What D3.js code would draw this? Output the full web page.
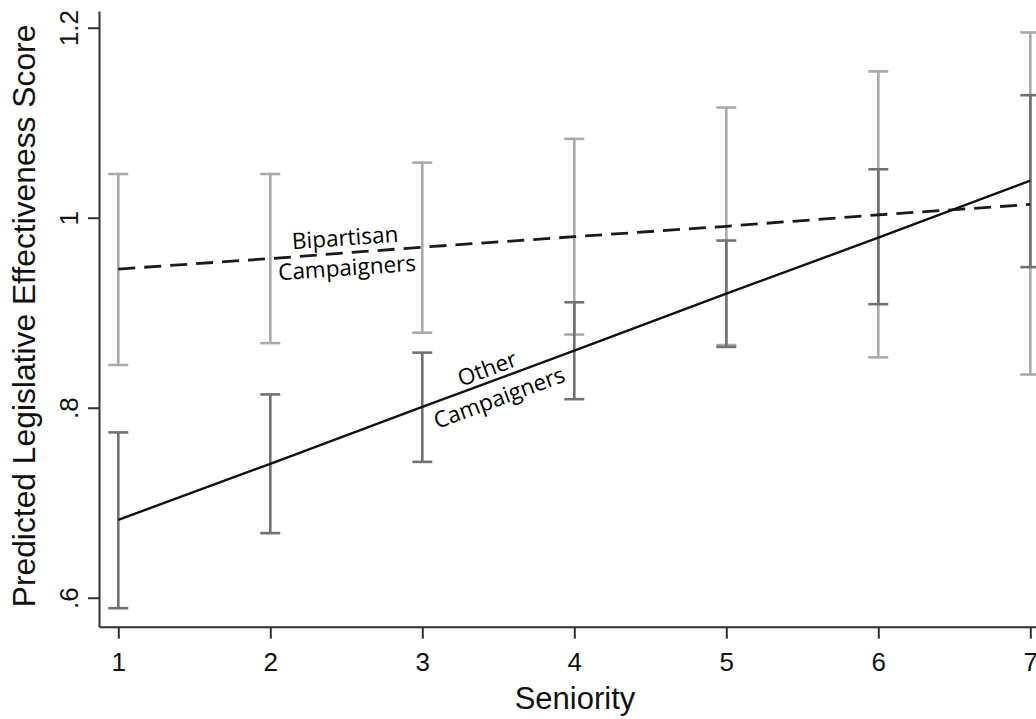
<!DOCTYPE html>
<html>
<head>
<meta charset="utf-8">
<script src="https://cdn.jsdelivr.net/npm/d3@7"></script>
<style>
  html, body { margin: 0; padding: 0; background: #fff; }
  svg { display: block; }
</style>
</head>
<body>
<svg id="chart" width="1036" height="719"></svg>
<script>
// ---- data ----
const seniority = [1, 2, 3, 4, 5, 6, 7];
const bipartisanFit   = [0.946, 0.957, 0.969, 0.980, 0.991, 1.003, 1.014];
const bipartisanLower = [0.845, 0.868, 0.879, 0.877, 0.866, 0.853, 0.835];
const bipartisanUpper = [1.046, 1.046, 1.058, 1.083, 1.116, 1.154, 1.195];
const otherFit   = [0.682, 0.741, 0.801, 0.860, 0.920, 0.979, 1.039];
const otherLower = [0.589, 0.668, 0.743, 0.809, 0.864, 0.909, 0.948];
const otherUpper = [0.774, 0.814, 0.858, 0.911, 0.976, 1.051, 1.129];
const xTicks = [1, 2, 3, 4, 5, 6, 7];
const yTicks = [0.6, 0.8, 1.0, 1.2];
const yTickLabels = [".6", ".8", "1", "1.2"];

const svg = d3.select("#chart");

const x = d3.scaleLinear().domain([0.873, 7.14]).range([99, 99 + (7.14 - 0.873) * 152]);
const y = d3.scaleLinear().domain([0.5695, 1.2176]).range([626.7, 11]);

// axes
const xAxis = d3.axisBottom(x).tickValues(xTicks).tickSize(12).tickSizeOuter(0).tickPadding(14)
  .tickFormat(d3.format("d"));
const gx = svg.append("g").attr("transform", `translate(0,${y.range()[0]})`).call(xAxis);
gx.select(".domain").attr("stroke", "#333").attr("stroke-width", 2);
gx.selectAll(".tick line").attr("stroke", "#333").attr("stroke-width", 2);
gx.selectAll(".tick text").attr("font-family", "Liberation Sans, Arial, sans-serif")
  .attr("font-size", 26).attr("fill", "#111");

const yAxis = d3.axisLeft(y).tickValues(yTicks).tickSize(11).tickSizeOuter(0)
  .tickFormat((d, i) => yTickLabels[i]);
const gy = svg.append("g").attr("transform", `translate(${x.range()[0]},0)`).call(yAxis);
gy.select(".domain").attr("stroke", "#333").attr("stroke-width", 2);
gy.selectAll(".tick line").attr("stroke", "#333").attr("stroke-width", 2);
gy.selectAll(".tick text")
  .attr("font-family", "Liberation Sans, Arial, sans-serif")
  .attr("font-size", 26).attr("fill", "#111")
  .attr("x", null).attr("dy", null)
  .attr("text-anchor", "middle")
  .attr("transform", "translate(-21,0) rotate(-90)");

// axis titles
svg.append("text")
  .attr("x", 575).attr("y", 709)
  .attr("text-anchor", "middle")
  .attr("font-family", "Liberation Sans, Arial, sans-serif")
  .attr("font-size", 31).attr("fill", "#111")
  .text("Seniority");

svg.append("text")
  .attr("transform", "translate(35,316) rotate(-90)")
  .attr("text-anchor", "middle")
  .attr("font-family", "Liberation Sans, Arial, sans-serif")
  .attr("font-size", 31.8).attr("fill", "#111")
  .text("Predicted Legislative Effectiveness Score");

// error bars
function drawBars(lower, upper, color) {
  const g = svg.append("g").attr("stroke", color).attr("stroke-width", 2.6).attr("fill", "none");
  seniority.forEach((s, i) => {
    const cx = x(s);
    g.append("line").attr("x1", cx).attr("x2", cx).attr("y1", y(lower[i])).attr("y2", y(upper[i]));
    g.append("line").attr("x1", cx - 10).attr("x2", cx + 10).attr("y1", y(lower[i])).attr("y2", y(lower[i]));
    g.append("line").attr("x1", cx - 10).attr("x2", cx + 10).attr("y1", y(upper[i])).attr("y2", y(upper[i]));
  });
}
drawBars(bipartisanLower, bipartisanUpper, "#a9a9a9");
drawBars(otherLower, otherUpper, "#707070");

// fitted lines
const line = d3.line().x((d, i) => x(seniority[i])).y(d => y(d));
svg.append("path").datum(bipartisanFit).attr("d", line)
  .attr("fill", "none").attr("stroke", "#1a1a1a").attr("stroke-width", 2.8)
  .attr("stroke-dasharray", "17,9");
svg.append("path").datum(otherFit).attr("d", line)
  .attr("fill", "none").attr("stroke", "#111").attr("stroke-width", 2.4);

// line labels
function label(txt, cx, cy, ang) {
  svg.append("text")
    .attr("transform", `translate(${cx},${cy}) rotate(${ang})`)
    .attr("text-anchor", "middle")
    .attr("dominant-baseline", "central")
    .attr("font-family", "Open Sans, sans-serif")
    .attr("font-size", 22.5).attr("fill", "#000")
    .text(txt);
}
label("Bipartisan", 345, 237, -4);
label("Campaigners", 347, 267, -4);
label("Other", 487, 368, -20.4);
label("Campaigners", 499, 397, -20.4);
</script>
</body>
</html>
